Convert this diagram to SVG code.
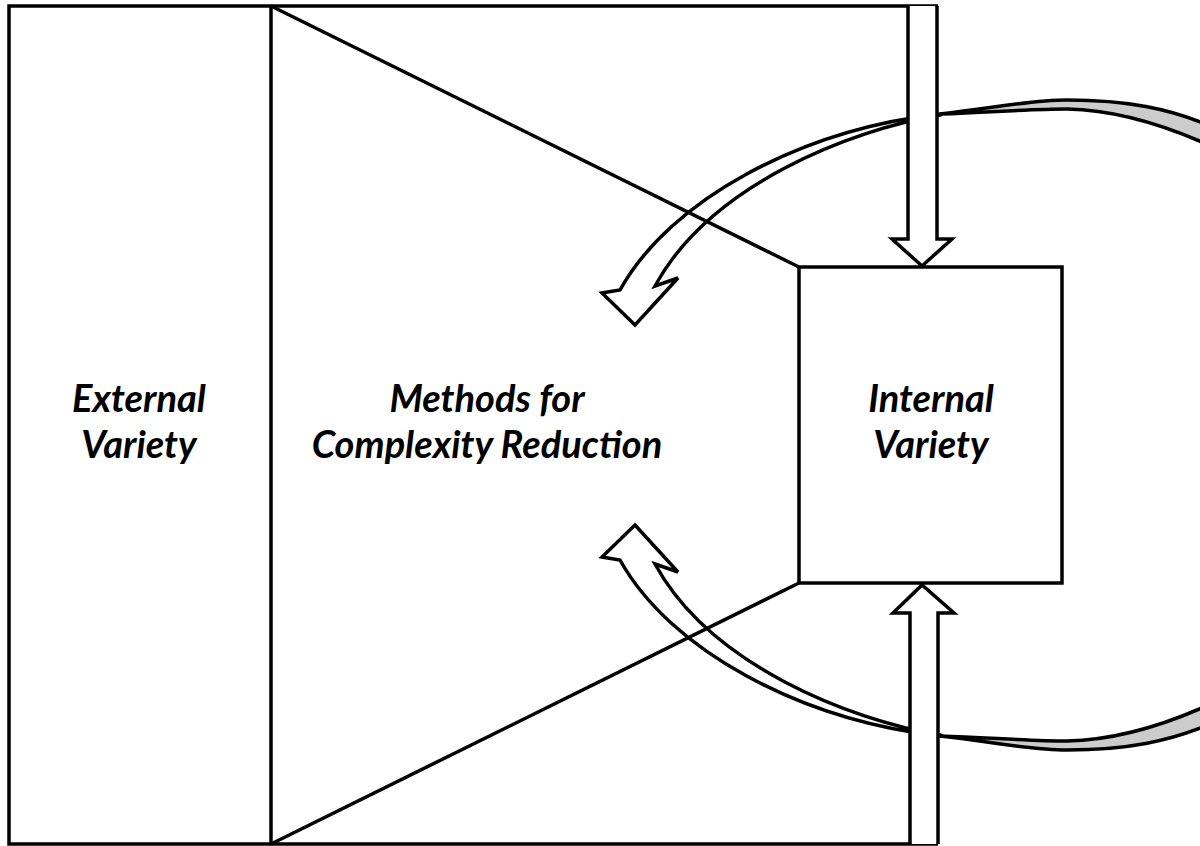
<svg xmlns="http://www.w3.org/2000/svg" width="1200" height="846" viewBox="0 0 1200 846">
  <style>
    .ln { fill: none; stroke: #000; stroke-width: 3.5; stroke-linejoin: miter; }
    .shape { fill: #fff; stroke: #000; stroke-width: 3.5; stroke-linejoin: miter; }
    .back { fill: #cccccc; stroke: #000; stroke-width: 3.5; }
    .label { font-family: Lato, "Liberation Sans", sans-serif; font-weight: bold; font-style: italic; font-size: 38px; fill: #000; text-anchor: middle; }
  </style>
  <defs>
    <!-- curved feedback arrow: gray back face sweeping off the right edge, white front face ending in a head -->
    <g id="curved-arrow">
      <path class="back" d="M940,114 C995,108 1030,100 1067,100 C1125,100 1170,108 1215,128 L1215,148 C1170,127 1120,110 1067,109 C1030,109 995,112 940,114 Z"/>
      <path class="shape" d="M940,114 C800,130 670,200 620,290 L602,293 L635,325 L678,278 L655,286 C710,185 850,130 940,115 Z"/>
    </g>
  </defs>
  <rect width="1200" height="846" fill="#fff"/>

  <g id="connectors">
    <use href="#curved-arrow"/>
    <use href="#curved-arrow" transform="translate(0,850) scale(1,-1)"/>
  </g>

  <g id="external-variety">
    <path class="ln" d="M938,6 H9 V844 H938"/>
    <text class="label" x="139" y="412">External</text>
    <text class="label" x="139" y="458">Variety</text>
  </g>

  <g id="complexity-reduction">
    <path class="ln" d="M271,6 V844"/>
    <path class="ln" d="M271,6 L799,267"/>
    <path class="ln" d="M271,844 L799,583"/>
    <text class="label" x="487" y="412">Methods for</text>
    <text class="label" x="487" y="458">Complexity Reduction</text>
  </g>

  <g id="input-arrows">
    <path class="shape" d="M908,6 V239 H892 L922,266 L952,239 H937 V6"/>
    <path class="shape" d="M910,844 V613 H893 L922,585 L954,613 H938 V844"/>
  </g>

  <g id="internal-variety">
    <rect class="shape" x="799" y="267" width="263" height="316"/>
    <text class="label" x="931" y="412">Internal</text>
    <text class="label" x="931" y="458">Variety</text>
  </g>
</svg>
